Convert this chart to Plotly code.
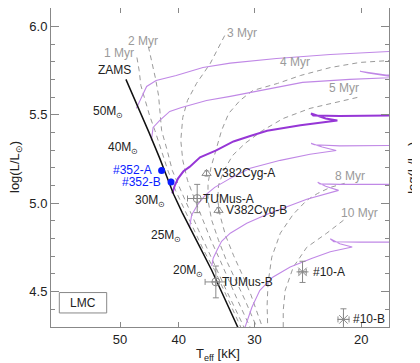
import numpy as np
import plotly.graph_objects as go

# ---------------- data (T_eff in kK, log L/Lsun) ----------------
zams_T = [48.9, 46.8, 44.8, 43.0, 41.6, 40.8, 39.5, 38.2, 36.9, 35.3, 33.6, 32.0, 31.7]
zams_L = [5.701, 5.554, 5.401, 5.254, 5.130, 5.051, 4.949, 4.847, 4.751, 4.621, 4.463, 4.299, 4.271]

trk50_T = [47.0, 46.0, 45.2, 43.6, 40.4, 36.5, 32.9, 27.6, 22.5, 18.0, 16.0]
trk50_L = [5.537, 5.610, 5.661, 5.695, 5.723, 5.768, 5.793, 5.819, 5.842, 5.859, 5.864]

trk40_T = [44.4, 44.1, 43.0, 41.4, 39.6, 36.0, 32.9, 29.4, 25.0, 20.9, 18.1, 16.0, 18.2, 20.1, 19.5, 17.9, 16.0]
trk40_L = [5.356, 5.429, 5.469, 5.520, 5.542, 5.582, 5.605, 5.638, 5.684, 5.701, 5.710, 5.718, 5.726, 5.747, 5.737, 5.718, 5.712]

trk30_T = [41.0, 40.6, 40.1, 39.3, 38.4, 36.9, 34.7, 32.5, 30.5, 28.6, 25.2, 21.9, 22.9, 24.2, 24.0, 21.7, 18.0, 16.0]
trk30_L = [5.056, 5.102, 5.141, 5.181, 5.206, 5.260, 5.299, 5.350, 5.381, 5.410, 5.441, 5.469, 5.480, 5.508, 5.497, 5.494, 5.497, 5.497]

trk25_T = [38.4, 38.1, 37.3, 36.2, 34.9, 32.9, 30.5, 27.2, 24.3, 22.0, 23.2, 24.2, 23.9, 21.7, 18.0, 16.0]
trk25_L = [4.864, 4.932, 4.989, 5.045, 5.090, 5.141, 5.198, 5.243, 5.277, 5.299, 5.319, 5.339, 5.331, 5.325, 5.328, 5.328]

trk20_T = [35.3, 35.1, 34.6, 34.0, 32.9, 30.9, 28.6, 26.2, 24.6, 21.8, 22.9, 23.6, 23.4, 21.7, 18.0, 16.0]
trk20_L = [4.644, 4.689, 4.734, 4.785, 4.831, 4.887, 4.938, 4.989, 5.023, 5.073, 5.096, 5.119, 5.110, 5.107, 5.107, 5.107]

trk15_T = [31.4, 31.1, 30.3, 29.4, 28.0, 26.2, 24.1, 22.5, 20.7, 21.7, 22.5, 22.2, 20.1, 18.0, 16.0]
trk15_L = [4.266, 4.299, 4.412, 4.508, 4.582, 4.640, 4.689, 4.726, 4.753, 4.771, 4.799, 4.782, 4.780, 4.781, 4.781]

iso1_T = [46.9, 46.5, 46.2, 45.5, 44.7, 43.8, 42.8, 41.7, 40.5, 39.1, 37.7, 36.4, 34.9, 33.7, 32.6, 31.6, 30.9]
iso1_L = [5.825, 5.751, 5.667, 5.582, 5.497, 5.412, 5.299, 5.186, 5.073, 4.960, 4.847, 4.734, 4.621, 4.508, 4.395, 4.299, 4.226]

iso2_T = [44.9, 44.3, 43.7, 43.2, 42.9, 42.7, 41.8, 41.0, 39.7, 38.4, 37.1, 35.8, 34.6, 33.4, 32.2, 31.3, 30.5]
iso2_L = [5.887, 5.797, 5.706, 5.610, 5.508, 5.412, 5.299, 5.186, 5.073, 4.960, 4.847, 4.734, 4.621, 4.508, 4.395, 4.299, 4.226]

iso3_T = [33.6, 35.5, 37.4, 38.7, 39.4, 39.7, 39.4, 38.7, 37.6, 36.5, 35.4, 34.2, 33.1, 32.0, 31.0, 30.3, 29.8]
iso3_L = [5.949, 5.791, 5.678, 5.582, 5.486, 5.356, 5.243, 5.130, 5.017, 4.904, 4.791, 4.678, 4.565, 4.452, 4.350, 4.282, 4.226]

iso4_T = [16.0, 18.2, 20.1, 22.5, 25.2, 27.5, 30.2, 31.7, 33.1, 34.0, 34.8, 35.4, 35.8, 35.8, 35.3, 34.4, 33.4, 32.2, 31.1, 30.2, 29.6, 29.1]
iso4_L = [5.819, 5.808, 5.797, 5.768, 5.723, 5.678, 5.638, 5.582, 5.508, 5.412, 5.299, 5.203, 5.113, 5.017, 4.904, 4.791, 4.678, 4.565, 4.452, 4.350, 4.282, 4.226]

iso5_T = [20.3, 21.4, 24.3, 26.9, 29.1, 31.1, 32.6, 33.7, 34.4, 34.5, 34.2, 33.5, 32.5, 31.4, 30.4, 29.6, 29.0, 28.6]
iso5_L = [5.599, 5.582, 5.537, 5.480, 5.412, 5.339, 5.271, 5.186, 5.102, 5.017, 4.932, 4.819, 4.706, 4.593, 4.480, 4.367, 4.282, 4.226]

iso8_T = [21.3, 22.5, 23.6, 24.6, 25.9, 27.2, 28.1, 28.5, 28.6, 28.5, 28.5]
iso8_L = [5.113, 5.090, 5.056, 5.017, 4.938, 4.831, 4.695, 4.548, 4.424, 4.299, 4.226]

iso10_T = [21.4, 22.8, 24.6, 25.9, 26.7, 26.9, 26.9, 26.9]
iso10_L = [4.904, 4.831, 4.751, 4.638, 4.508, 4.395, 4.299, 4.226]

# observed stars
obs_names = ["#352-A", "#352-B"]
obs_T = [42.7, 41.2]
obs_L = [5.186, 5.120]

cyg_names = ["V382Cyg-A", "V382Cyg-B"]
cyg_T = [36.0, 34.4]
cyg_L = [5.169, 4.960]

tum_names = ["TUMus-A", "TUMus-B"]
tum_T = [37.3, 34.75]
tum_L = [5.027, 4.555]
tum_Tp = [1.4, 1.45]
tum_Tm = [1.3, 1.25]
tum_Le = [0.08, 0.09]

n10_names = ["#10-A", "#10-B"]
n10_T = [25.0, 21.4]
n10_L = [4.612, 4.343]
n10_Te = [0.35, 0.45]
n10_Le = [0.06, 0.06]

mass_labels = ["50M<sub>⊙</sub>", "40M<sub>⊙</sub>", "30M<sub>⊙</sub>", "25M<sub>⊙</sub>", "20M<sub>⊙</sub>"]
iso_labels = ["1 Myr", "2 Myr", "3 Myr", "4 Myr", "5 Myr", "8 Myr", "10 Myr"]
x_ticks = [50, 40, 30, 20]

# ---------------- styling ----------------
FONT = "Liberation Sans, Arial, sans-serif"
PURPLE = "#c088e6"
PURPLE_DARK = "#9636d6"
GRAY_DASH = "#9a9a9a"
GRAY_MK = "#8a8a8a"
BLUE = "#0a1cff"
TXT = "#222222"

fig = go.Figure()

for T, L in [(iso1_T, iso1_L), (iso2_T, iso2_L), (iso3_T, iso3_L), (iso4_T, iso4_L),
             (iso5_T, iso5_L), (iso8_T, iso8_L), (iso10_T, iso10_L)]:
    fig.add_trace(go.Scatter(x=T, y=L, mode="lines", hoverinfo="skip",
                             line=dict(color=GRAY_DASH, width=1, dash="5px,4px")))

for T, L in [(trk50_T, trk50_L), (trk40_T, trk40_L), (trk25_T, trk25_L),
             (trk20_T, trk20_L), (trk15_T, trk15_L)]:
    fig.add_trace(go.Scatter(x=T, y=L, mode="lines", line=dict(color=PURPLE, width=1.1)))
fig.add_trace(go.Scatter(x=trk30_T, y=trk30_L, mode="lines", line=dict(color=PURPLE_DARK, width=2)))

fig.add_trace(go.Scatter(x=zams_T, y=zams_L, mode="lines", line=dict(color="#111111", width=1.5)))

# comparison stars
fig.add_trace(go.Scatter(x=cyg_T, y=cyg_L, mode="markers",
                         marker=dict(symbol="triangle-up-open", size=8, color=GRAY_MK, line=dict(width=1)),
                         error_y=dict(type="constant", value=0.015, color=GRAY_MK, thickness=1, width=2)))
fig.add_trace(go.Scatter(x=tum_T, y=tum_L, mode="markers",
                         marker=dict(symbol="circle-cross-open", size=8, color=GRAY_MK, line=dict(width=1)),
                         error_x=dict(type="data", array=tum_Tp, arrayminus=tum_Tm, color=GRAY_MK, thickness=1, width=3),
                         error_y=dict(type="data", array=tum_Le, color=GRAY_MK, thickness=1, width=3)))
fig.add_trace(go.Scatter(x=n10_T, y=n10_L, mode="markers",
                         marker=dict(symbol="asterisk-open", size=10, color=GRAY_MK, line=dict(width=1, color=GRAY_MK)),
                         error_x=dict(type="data", array=n10_Te, color=GRAY_MK, thickness=1, width=3),
                         error_y=dict(type="data", array=n10_Le, color=GRAY_MK, thickness=1, width=3)))
fig.add_trace(go.Scatter(x=obs_T, y=obs_L, mode="markers",
                         marker=dict(symbol="circle", size=7, color=BLUE)))

lx = np.log10
ann = []
def A(text, x, y, xa="center", color=TXT, size=12, **kw):
    d = dict(text=text, x=x, y=y, xref="x", yref="y", showarrow=False, xanchor=xa,
             yanchor="middle", font=dict(family=FONT, size=size, color=color))
    d.update(kw)
    ann.append(d)

A("ZAMS", lx(51.0), 5.757)
mass_pos = [(49.1, 5.515), (46.4, 5.311), (41.8, 5.012), (39.4, 4.814), (36.2, 4.616)]
for t, (x, y) in zip(mass_labels, mass_pos):
    A(t, lx(x), y, xa="right")

iso_pos = [(47.1, 5.853, "right"), (48.8, 5.921, "left"), (33.5, 5.966, "left"),
           (27.4, 5.797, "left"), (22.8, 5.650, "left"), (22.3, 5.153, "left"), (21.8, 4.944, "left")]
for t, (x, y, a) in zip(iso_labels, iso_pos):
    A(t, lx(x), y, xa=a, color=GRAY_DASH)

for t, x, y in zip(obs_names, obs_T, obs_L):
    A(t, lx(x), y, xa="right", color=BLUE, xshift=-8)
for t, x, y in zip(cyg_names, cyg_T, cyg_L):
    A(t, lx(x), y, xa="left", xshift=5)
for t, x, y in zip(tum_names, tum_T, tum_L):
    A(t, lx(x), y, xa="left", xshift=4)
for t, x, y in zip(n10_names, n10_T, n10_L):
    A(t, lx(x), y, xa="left", xshift=8)

def P(text, x, y, xa="center", ya="middle", **kw):
    d = dict(text=text, x=x, y=y, xref="paper", yref="paper", showarrow=False,
             xanchor=xa, yanchor=ya, font=dict(family=FONT, size=13, color=TXT))
    d.update(kw)
    ann.append(d)

# LMC box label
P("LMC", 0.0947, 0.076, font=dict(family=FONT, size=12, color=TXT))
# axis titles
P("T<sub>eff</sub> [kK]", 0.494, -0.085)
P("log(L/L<sub>⊙</sub>)", -0.105, 0.5, textangle=-90)
# neighbouring panel's axis title (cut by the edge)
P("log(L/L<sub>⊙</sub>)", 1.072, 0.5, textangle=-90)

fig.add_shape(type="rect", xref="paper", yref="paper", x0=0.0246, x1=0.1648, y0=0.044, y1=0.108,
              line=dict(color="#888888", width=1))

axis_common = dict(showline=True, linecolor="#888888", linewidth=1, mirror="allticks",
                   ticks="inside", tickcolor="#888888", showgrid=False, zeroline=False,
                   automargin=False, tickfont=dict(family=FONT, size=13, color=TXT))

# the page body keeps its default 8px margin, so the figure is 8px smaller
fig.update_layout(
    width=412, height=355,
    margin=dict(l=43, r=31, t=0, b=36),
    paper_bgcolor="white", plot_bgcolor="white",
    showlegend=False,
    annotations=ann,
    xaxis=dict(type="log", range=[lx(65), lx(18)], tickvals=x_ticks,
               ticktext=[str(v) for v in x_ticks], ticklen=5, **axis_common),
    yaxis=dict(range=[4.3, 6.105], tick0=4.5, dtick=0.5, tickformat=".1f", ticklen=8,
               minor=dict(dtick=0.1, ticklen=4, ticks="inside", tickcolor="#888888"),
               **axis_common),
)

fig.write_html("out.html")
